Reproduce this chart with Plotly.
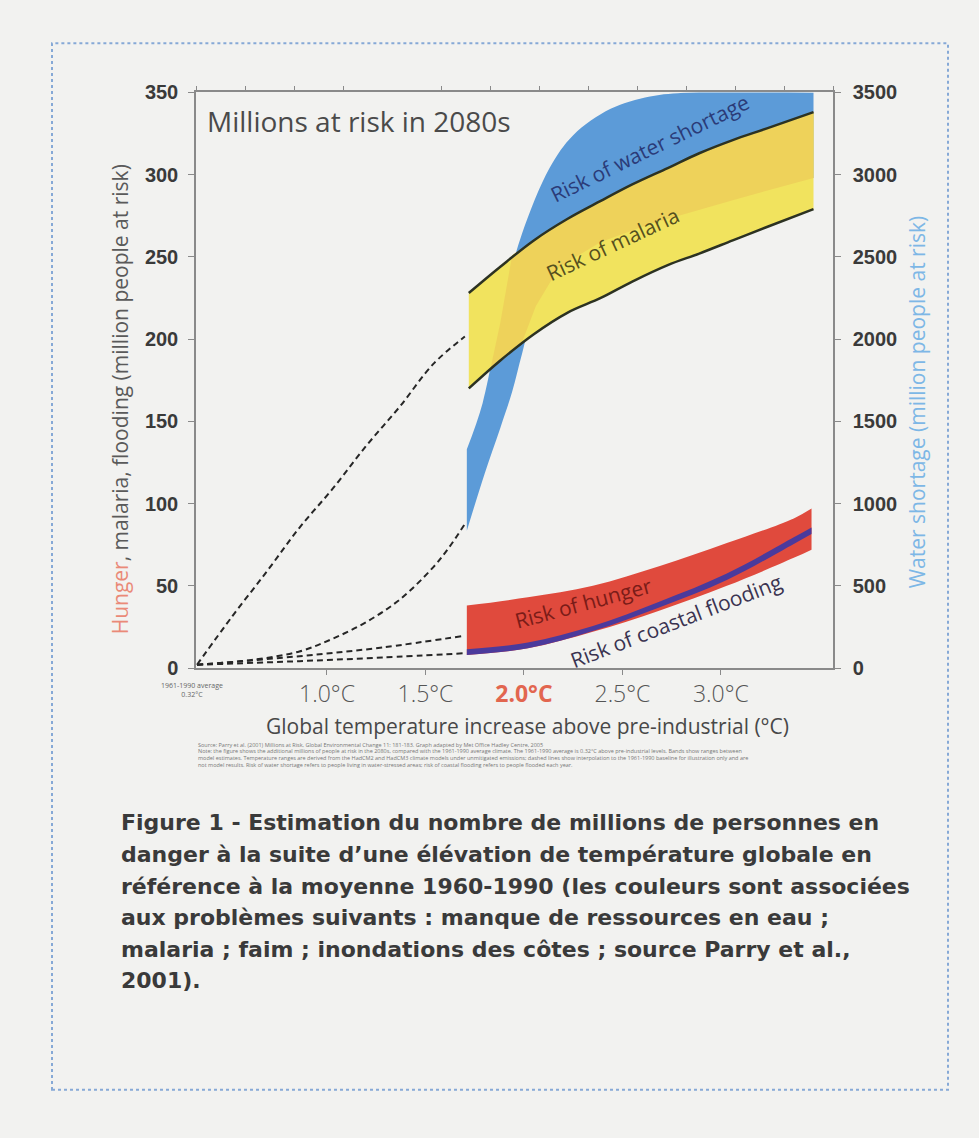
import plotly.graph_objects as go

# ---------------- data ----------------
# Risk of water shortage (right axis, million people)
water_low_T = [1.71, 1.80, 1.88, 1.94, 1.99, 2.06, 2.18, 2.39, 2.64, 3.06, 3.47]
water_low = [835, 1180, 1460, 1680, 1910, 2200, 2440, 2590, 2700, 2845, 2980]
water_high_T = [1.71, 1.79, 1.90, 1.99, 2.13, 2.25, 2.44, 2.64, 2.84, 3.47]
water_high = [1330, 1610, 2250, 2640, 3040, 3240, 3400, 3475, 3500, 3500]

# Risk of malaria (left axis, million people)
mal_T = [1.72, 1.88, 2.05, 2.22, 2.39, 2.55, 2.73, 2.89, 3.06, 3.23, 3.47]
mal_high = [228, 244, 260, 273, 284, 294, 304, 313, 321, 328, 338]
mal_low = [170, 187, 203, 216, 225, 235, 245, 252, 260, 268, 279]

# part of the malaria band lying over the water-shortage band
overlap_T = [1.83, 1.88, 1.94, 2.05, 2.22, 2.39, 2.55, 2.73, 2.89, 3.06, 3.23, 3.47,
             3.47, 3.06, 2.64, 2.39, 2.18, 2.06, 1.99, 1.88, 1.83]
overlap_v = [182, 210, 251, 260, 273, 284, 294, 304, 313, 321, 328, 338,
             298, 284.5, 270, 259, 244, 220, 198, 187, 182]

# Risk of hunger / coastal flooding (left axis)
hun_T = [1.71, 2.02, 2.35, 2.69, 3.03, 3.37, 3.46]
hun_high = [38, 43, 50, 62, 76, 91, 97]
hun_low = [8, 12, 22, 35, 50, 67, 72]
flood_high = [11.5, 15.5, 25.5, 40.5, 57.5, 79.5, 85.5]
flood_low = [8, 12, 22.5, 37, 53.5, 75.5, 81.5]

# dashed extrapolations from the 1961-1990 baseline
mal_dash_T = [0.34, 0.52, 0.70, 0.86, 1.03, 1.20, 1.37, 1.54, 1.70]
mal_dash = [2, 31.6, 59.6, 85.3, 109.2, 135.2, 159, 184.9, 201.6]
water_dash_T = [0.34, 0.61, 0.86, 1.03, 1.20, 1.37, 1.54, 1.62, 1.70]
water_dash = [20, 48, 101, 179, 280, 417, 614, 734, 876]
low_dash_T = [0.34, 0.86, 1.28, 1.70]
hunger_dash = [2, 7.2, 12.5, 19.7]
flood_dash = [2, 4.2, 6.4, 9]

x_ticks = [1.0, 1.5, 2.0, 2.5, 3.0]
x_ticktext = ["1.0°C", "1.5°C", "<b><span style='color:#e2664f'>2.0°C</span></b>", "2.5°C", "3.0°C"]
left_ticks = [0, 50, 100, 150, 200, 250, 300, 350]
right_ticks = [0, 500, 1000, 1500, 2000, 2500, 3000, 3500]
top_ticks = [0, 1, 2, 3, 5, 6, 7, 8, 9, 10, 11, 12, 13]

caption_lines = [
    "Figure 1 - Estimation du nombre de millions de personnes en",
    "danger à la suite d’une élévation de température globale en",
    "référence à la moyenne 1960-1990 (les couleurs sont associées",
    "aux problèmes suivants : manque de ressources en eau ;",
    "malaria ; faim ; inondations des côtes ; source Parry et al.,",
    "2001).",
]
foot_lines = [
    "Source: Parry et al. (2001) Millions at Risk, Global Environmental Change 11: 181-183. Graph adapted by Met Office Hadley Centre, 2005",
    "Note: the figure shows the additional millions of people at risk in the 2080s, compared with the 1961-1990 average climate. The 1961-1990 average is 0.32°C above pre-industrial levels. Bands show ranges between",
    "model estimates. Temperature ranges are derived from the HadCM2 and HadCM3 climate models under unmitigated emissions; dashed lines show interpolation to the 1961-1990 baseline for illustration only and are",
    "not model results. Risk of water shortage refers to people living in water-stressed areas; risk of coastal flooding refers to people flooded each year.",
]

# ---------------- figure ----------------
W, H = 979, 1138
def px(x): return x / W
def py(y): return 1 - y / H

BG = "#f2f2f0"
AX = "#8a8a8a"
BLUE = "#5c9bd8"
YELLOW = "#f1e35e"
ORANGE = "#eed25a"
RED = "#e04a3d"
PURPLE = "#4b3a9c"
OUTLINE = "#2c3222"
DASH = dict(color="#262626", width=2, dash="6px,4px")

fig = go.Figure()
sp = dict(mode="lines", hoverinfo="skip", showlegend=False)

# water shortage band (base subplot, right axis)
fig.add_trace(go.Scatter(x=water_low_T, y=water_low, line=dict(width=0, shape="spline"), xaxis="x", yaxis="y", **sp))
fig.add_trace(go.Scatter(x=water_high_T, y=water_high, fill="tonexty", fillcolor=BLUE,
                         line=dict(width=0, shape="spline"), xaxis="x", yaxis="y", **sp))
fig.add_trace(go.Scatter(x=water_dash_T, y=water_dash, line=dict(**DASH, shape="spline"), xaxis="x", yaxis="y", **sp))
# invisible trace for the top tick axis
fig.add_trace(go.Scatter(x=[], y=[], xaxis="x2", yaxis="y", **sp))

# malaria band (left axis)
fig.add_trace(go.Scatter(x=mal_T, y=mal_low, line=dict(width=0, shape="spline"), xaxis="x", yaxis="y2", **sp))
fig.add_trace(go.Scatter(x=mal_T, y=mal_high, fill="tonexty", fillcolor=YELLOW,
                         line=dict(width=0, shape="spline"), xaxis="x", yaxis="y2", **sp))
fig.add_trace(go.Scatter(x=overlap_T, y=overlap_v, fill="toself", fillcolor=ORANGE,
                         line=dict(width=0), xaxis="x", yaxis="y2", **sp))
fig.add_trace(go.Scatter(x=mal_T, y=mal_low, line=dict(color=OUTLINE, width=2.5, shape="spline"), xaxis="x", yaxis="y2", **sp))
fig.add_trace(go.Scatter(x=mal_T, y=mal_high, line=dict(color=OUTLINE, width=2.5, shape="spline"), xaxis="x", yaxis="y2", **sp))

# hunger band
fig.add_trace(go.Scatter(x=hun_T, y=hun_low, line=dict(width=0, shape="spline"), xaxis="x", yaxis="y2", **sp))
fig.add_trace(go.Scatter(x=hun_T, y=hun_high, fill="tonexty", fillcolor=RED,
                         line=dict(width=0, shape="spline"), xaxis="x", yaxis="y2", **sp))
# coastal flooding band
fig.add_trace(go.Scatter(x=hun_T, y=flood_low, line=dict(width=0, shape="spline"), xaxis="x", yaxis="y2", **sp))
fig.add_trace(go.Scatter(x=hun_T, y=flood_high, fill="tonexty", fillcolor=PURPLE,
                         line=dict(width=0, shape="spline"), xaxis="x", yaxis="y2", **sp))

# dashed lines
fig.add_trace(go.Scatter(x=mal_dash_T, y=mal_dash, line=dict(**DASH, shape="spline"), xaxis="x", yaxis="y2", **sp))
fig.add_trace(go.Scatter(x=low_dash_T, y=hunger_dash, line=dict(**DASH, shape="spline"), xaxis="x", yaxis="y2", **sp))
fig.add_trace(go.Scatter(x=low_dash_T, y=flood_dash, line=dict(**DASH, shape="spline"), xaxis="x", yaxis="y2", **sp))

xdom = [px(196), px(833)]
ydom = [py(670), py(83)]
numfont = dict(family="Liberation Sans", size=20, color="#3a3a3a", weight="bold")

fig.update_layout(
    width=W, height=H, autosize=False,
    margin=dict(l=0, r=0, t=0, b=0),
    paper_bgcolor=BG, plot_bgcolor=BG,
    showlegend=False,
    xaxis=dict(domain=xdom, range=[0.335, 3.569], anchor="y",
               tickmode="array", tickvals=x_ticks, ticktext=x_ticktext,
               tickfont=dict(family="Open Sans", size=23, color="#555", weight=300),
               showline=True, linecolor=AX, linewidth=1.5, ticks="outside", ticklen=5,
               tickcolor=AX, ticklabelstandoff=0, showgrid=False, zeroline=False),
    xaxis2=dict(overlaying="x", side="top", anchor="y", range=[0, 13],
                tickmode="array", tickvals=top_ticks, showticklabels=False,
                showline=True, linecolor=AX, linewidth=1.5, ticks="outside", ticklen=5,
                tickcolor=AX, showgrid=False, zeroline=False),
    yaxis=dict(domain=ydom, range=[0, 3500], side="right", anchor="x",
               tickmode="array", tickvals=right_ticks, tickfont=numfont,
               showline=True, linecolor=AX, linewidth=1.5, ticks="outside", ticklen=6,
               tickcolor=AX, ticklabelstandoff=8, showgrid=False, zeroline=False),
    yaxis2=dict(overlaying="y", side="left", anchor="x", range=[0, 350],
                tickmode="array", tickvals=left_ticks, tickfont=numfont,
                showline=True, linecolor=AX, linewidth=1.5, ticks="outside", ticklen=6,
                tickcolor=AX, ticklabelstandoff=6, showgrid=False, zeroline=False),
)

ann = []
LBL = "Open Sans"
C = dict(showarrow=False, xanchor="center", yanchor="middle")
# band labels
ann.append(dict(x=2.64, y=3160, xref="x", yref="y", text="Risk of water shortage", textangle=-26,
                font=dict(family=LBL, size=21, color="#2b3b78"), **C))
ann.append(dict(x=2.45, y=257.6, xref="x", yref="y2", text="Risk of malaria", textangle=-25,
                font=dict(family=LBL, size=21, color="#55501e"), **C))
ann.append(dict(x=2.30, y=39.4, xref="x", yref="y2", text="Risk of hunger", textangle=-15,
                font=dict(family=LBL, size=21, color="#7a1c18"), **C))
ann.append(dict(x=2.77, y=28.6, xref="x", yref="y2", text="Risk of coastal flooding", textangle=-21,
                font=dict(family=LBL, size=21, color="#3a3350"), **C))
# chart title inside plot
ann.append(dict(x=px(205), y=py(112), xref="paper", yref="paper", xanchor="left", yanchor="middle",
                text="Millions at risk in 2080s", showarrow=False,
                font=dict(family=LBL, size=28, color="#4a4a4a")))
# axis titles
ann.append(dict(x=px(120), y=py(396), xref="paper", yref="paper", textangle=-90,
                text="<span style='color:#ea8a78'>Hunger</span>, malaria, flooding (million people at risk)",
                font=dict(family=LBL, size=21, color="#5a5a5a"), **C))
ann.append(dict(x=px(917), y=py(399), xref="paper", yref="paper", textangle=-90,
                text="Water shortage (million people at risk)",
                font=dict(family=LBL, size=21, color="#7db7e6"), **C))
ann.append(dict(x=px(527), y=py(729), xref="paper", yref="paper",
                text="Global temperature increase above pre-industrial (°C)",
                font=dict(family=LBL, size=21, color="#484848"), **C))
# baseline label
ann.append(dict(x=px(192), y=py(692), xref="paper", yref="paper",
                text="1961-1990 average<br>0.32°C", font=dict(family=LBL, size=7, color="#666"), **C))
# tiny source notes
for i, line in enumerate(foot_lines):
    ann.append(dict(x=px(196), y=py(748 + 7 * i), xref="paper", yref="paper", xanchor="left",
                    yanchor="middle", showarrow=False, text=line,
                    font=dict(family=LBL, size=5.5, color="#777")))
# caption
for i, line in enumerate(caption_lines):
    ann.append(dict(x=px(119), y=py(828 + 32.2 * i), xref="paper", yref="paper", xanchor="left",
                    yanchor="middle", showarrow=False, text=line,
                    font=dict(family="DejaVu Sans", size=22, color="#3a3a3a", weight="bold")))
fig.update_layout(annotations=ann)

# dotted frame
fig.add_shape(type="rect", xref="paper", yref="paper", x0=px(52), x1=px(948), y0=py(1100), y1=py(33),
              line=dict(color="#86a9d6", width=2, dash="dot"), fillcolor="rgba(0,0,0,0)", layer="below")

fig.write_html("out.html", config={"displayModeBar": False},
               post_script="document.body.style.margin='0';document.body.style.background='#f2f2f0';")
